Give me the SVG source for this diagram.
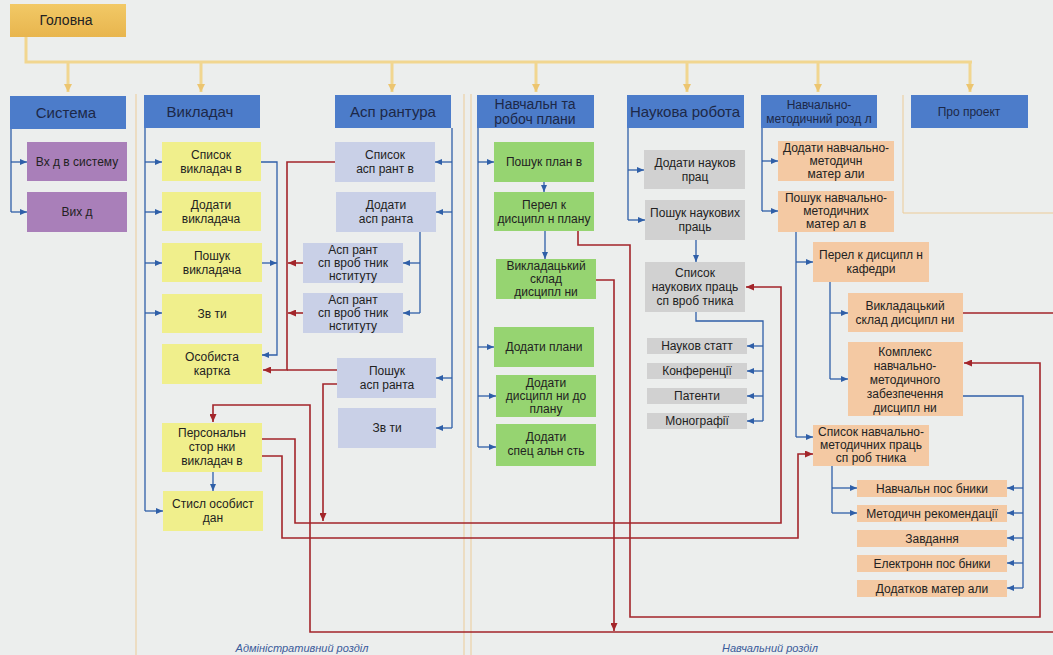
<svg xmlns="http://www.w3.org/2000/svg" width="1053" height="655" viewBox="0 0 1053 655">
<defs>
<style>
text{font-family:"Liberation Sans",Arial,sans-serif;fill:#222;text-anchor:middle}
.t{font-size:12px}
.h{font-size:15px;fill:#1c2848}
.hs{font-size:12px;fill:#1c2848}
.hd{fill:#4c7cca}
.pu{fill:#a97fb9}
.ye{fill:#f0ef8c}
.la{fill:#c9d0e7}
.gr{fill:#96d471}
.gy{fill:#d1d1d1}
.pe{fill:#f4c9a3}
.b{fill:none;stroke:#2f5fa8;stroke-width:1.3;marker-end:url(#ab)}
.bl{fill:none;stroke:#2f5fa8;stroke-width:1.3}
.r{fill:none;stroke:#a3252a;stroke-width:1.6;marker-end:url(#ar)}
.rl{fill:none;stroke:#a3252a;stroke-width:1.6}
.o{fill:none;stroke:#f1d690;stroke-width:3}
.od{fill:none;stroke:#f1d690;stroke-width:3;marker-end:url(#ao)}
.sep{fill:none;stroke:#eccb98;stroke-width:1}
.sec{font-size:11px;font-style:italic;fill:#3b5b9b}
</style>
<marker id="ab" markerWidth="7" markerHeight="6" refX="7" refY="3" orient="auto" markerUnits="userSpaceOnUse"><path d="M0,0 L7,3 L0,6 z" fill="#2f5fa8"/></marker>
<marker id="ar" markerWidth="8" markerHeight="7" refX="8" refY="3.5" orient="auto" markerUnits="userSpaceOnUse"><path d="M0,0 L8,3.5 L0,7 z" fill="#a3252a"/></marker>
<marker id="ao" markerWidth="10" markerHeight="8" refX="8" refY="4" orient="auto" markerUnits="userSpaceOnUse"><path d="M0,0 L8,4 L0,8 z" fill="#ecc570"/></marker>
<linearGradient id="gold" x1="0" y1="0" x2="0" y2="1"><stop offset="0" stop-color="#f2c966"/><stop offset="1" stop-color="#e8b54e"/></linearGradient>
</defs>
<rect x="0" y="0" width="1053" height="655" fill="#eceeed"/>
<g id="separators">
<path class="sep" d="M136,94 V655"/>
<path class="sep" d="M464,94 V655 M471,94 V655"/>
<path class="sep" d="M903,95 V213 H1053"/>
</g>
<g id="connectors">
<path class="o" d="M26,37 V62 H972"/>
<path class="od" d="M68,62 V92"/>
<path class="od" d="M201,62 V92"/>
<path class="od" d="M392,62 V92"/>
<path class="od" d="M536,62 V92"/>
<path class="od" d="M687,62 V92"/>
<path class="od" d="M818,62 V92"/>
<path class="od" d="M970,62 V92"/>
<path class="bl" d="M11,129 V212"/>
<path class="b" d="M11,162 H27"/>
<path class="b" d="M11,212 H27"/>
<path class="bl" d="M145,128 V511"/>
<path class="b" d="M145,162 H162"/>
<path class="b" d="M145,212 H162"/>
<path class="b" d="M145,263 H162"/>
<path class="b" d="M145,313 H162"/>
<path class="b" d="M145,511 H163"/>
<path class="b" d="M261,162 H277 V355 H262"/>
<path class="b" d="M262,263 H277"/>
<path class="b" d="M213,472 V491"/>
<path class="bl" d="M452,128 V428"/>
<path class="b" d="M452,162 H435"/>
<path class="b" d="M452,212 H436"/>
<path class="b" d="M452,378 H436"/>
<path class="b" d="M452,428 H436"/>
<path class="bl" d="M420,232 V313"/>
<path class="b" d="M420,263 H403"/>
<path class="b" d="M420,313 H403"/>
<path class="bl" d="M478,128 V447"/>
<path class="b" d="M478,162 H494"/>
<path class="b" d="M478,347 H494"/>
<path class="b" d="M478,396 H496"/>
<path class="b" d="M478,447 H496"/>
<path class="b" d="M544,182 V192"/>
<path class="b" d="M545,231 V259"/>
<path class="bl" d="M628,128 V220"/>
<path class="b" d="M628,170 H644"/>
<path class="b" d="M628,220 H645"/>
<path class="b" d="M696,240 V262"/>
<path class="bl" d="M696,312 V321 H763 V421"/>
<path class="b" d="M763,346 H747"/>
<path class="b" d="M763,371 H747"/>
<path class="b" d="M763,396 H747"/>
<path class="b" d="M763,421 H747"/>
<path class="bl" d="M762,128 V211"/>
<path class="b" d="M762,161 H778"/>
<path class="b" d="M762,211 H778"/>
<path class="bl" d="M796,232 V437"/>
<path class="b" d="M796,262 H813"/>
<path class="b" d="M796,437 H813"/>
<path class="bl" d="M830,282 V379"/>
<path class="b" d="M830,313 H848"/>
<path class="b" d="M830,379 H848"/>
<path class="bl" d="M832,466 V513"/>
<path class="b" d="M832,488 H857"/>
<path class="b" d="M832,513 H857"/>
<path class="bl" d="M963,396 H1023 V588"/>
<path class="b" d="M1023,488 H1007"/>
<path class="b" d="M1023,513 H1007"/>
<path class="b" d="M1023,538 H1007"/>
<path class="b" d="M1023,563 H1007"/>
<path class="b" d="M1023,588 H1007"/>
<path class="r" d="M335,162 H287 V370 H263"/>
<path class="rl" d="M337,370 H287"/>
<path class="r" d="M303,263 H288"/>
<path class="r" d="M303,313 H288"/>
<path class="r" d="M337,384 H323 V521"/>
<path class="r" d="M963,313 H1060 V632 H310 V405 H213 V422"/>
<path class="r" d="M596,280 H614 V631"/>
<path class="r" d="M578,231 V245 H630 V617 H1040 V363 H964"/>
<path class="r" d="M262,439 H295 V523 H781 V287 H746"/>
<path class="r" d="M262,456 H282 V538 H798 V454 H813"/>
</g>
<g id="golovna"><rect x="10" y="4" width="116" height="33" fill="url(#gold)"/><text x="66" y="25" style="font-size:14px" fill="#2a2418">Головна</text></g>
<g id="h-systema"><rect class="hd" x="10" y="96" width="116" height="33"/><text class="h" x="66" y="118">Система</text></g>
<g id="h-vykladach"><rect class="hd" x="144" y="95" width="116" height="33"/><text class="h" x="200" y="117">Викладач</text></g>
<g id="h-aspirantura"><rect class="hd" x="335" y="95" width="116" height="33"/><text class="h" x="393" y="117">Асп рантура</text></g>
<g id="h-plany"><rect class="hd" x="477" y="95" width="117" height="33"/><text class="h" x="535" y="109" style="font-size:14px">Навчальн та</text><text class="h" x="535" y="124" style="font-size:14px">робоч плани</text></g>
<g id="h-naukova"><rect class="hd" x="627" y="95" width="117" height="33"/><text class="h" x="685" y="117">Наукова робота</text></g>
<g id="h-nm"><rect class="hd" x="761" y="95" width="116" height="33"/><text class="hs" x="819" y="109">Навчально-</text><text class="hs" x="819" y="123">методичний розд л</text></g>
<g id="h-proekt"><rect class="hd" x="911" y="95" width="117" height="33"/><text class="hs" x="969" y="116">Про проект</text></g>

<g id="n-vhid"><rect class="pu" x="27" y="142" width="100" height="39"/><text class="t" x="77" y="166">Вх д в систему</text></g>
<g id="n-vyhid"><rect class="pu" x="27" y="192" width="100" height="40"/><text class="t" x="77" y="216">Вих д</text></g>

<g id="n-spysok-vykl"><rect class="ye" x="162" y="142" width="99" height="39"/><text class="t" x="211" y="159">Список</text><text class="t" x="211" y="173">викладач в</text></g>
<g id="n-dodaty-vykl"><rect class="ye" x="162" y="192" width="99" height="39"/><text class="t" x="211" y="209">Додати</text><text class="t" x="211" y="223">викладача</text></g>
<g id="n-poshuk-vykl"><rect class="ye" x="162" y="243" width="100" height="39"/><text class="t" x="212" y="260">Пошук</text><text class="t" x="212" y="274">викладача</text></g>
<g id="n-zvity1"><rect class="ye" x="162" y="294" width="100" height="39"/><text class="t" x="212" y="318">Зв ти</text></g>
<g id="n-kartka"><rect class="ye" x="162" y="344" width="100" height="40"/><text class="t" x="212" y="361">Особиста</text><text class="t" x="212" y="375">картка</text></g>
<g id="n-personalni"><rect class="ye" x="162" y="423" width="100" height="49"/><text class="t" x="212" y="437">Персональн</text><text class="t" x="212" y="451">стор нки</text><text class="t" x="212" y="465">викладач в</text></g>
<g id="n-styslі"><rect class="ye" x="163" y="491" width="100" height="40"/><text class="t" x="213" y="508">Стисл особист</text><text class="t" x="213" y="522">дан</text></g>

<g id="n-spysok-asp"><rect class="la" x="335" y="142" width="100" height="40"/><text class="t" x="385" y="159">Список</text><text class="t" x="385" y="173">асп рант в</text></g>
<g id="n-dodaty-asp"><rect class="la" x="336" y="192" width="100" height="40"/><text class="t" x="386" y="209">Додати</text><text class="t" x="386" y="223">асп ранта</text></g>
<g id="n-asp-sp1"><rect class="la" x="303" y="243" width="100" height="40"/><text class="t" x="353" y="254">Асп рант</text><text class="t" x="353" y="267">сп вроб тник</text><text class="t" x="353" y="280">нституту</text></g>
<g id="n-asp-sp2"><rect class="la" x="303" y="293" width="100" height="40"/><text class="t" x="353" y="304">Асп рант</text><text class="t" x="353" y="317">сп вроб тник</text><text class="t" x="353" y="330">нституту</text></g>
<g id="n-poshuk-asp"><rect class="la" x="337" y="358" width="99" height="40"/><text class="t" x="387" y="375">Пошук</text><text class="t" x="387" y="389">асп ранта</text></g>
<g id="n-zvity2"><rect class="la" x="338" y="408" width="98" height="40"/><text class="t" x="387" y="432">Зв ти</text></g>

<g id="n-poshuk-plan"><rect class="gr" x="494" y="142" width="100" height="40"/><text class="t" x="544" y="166">Пошук план в</text></g>
<g id="n-perelik-plan"><rect class="gr" x="494" y="192" width="100" height="39"/><text class="t" x="544" y="209">Перел к</text><text class="t" x="544" y="223">дисципл н плану</text></g>
<g id="n-vykl-sklad1"><rect class="gr" x="496" y="259" width="100" height="40"/><text class="t" x="546" y="270">Викладацький</text><text class="t" x="546" y="283">склад</text><text class="t" x="546" y="296">дисципл ни</text></g>
<g id="n-dodaty-plany"><rect class="gr" x="494" y="327" width="100" height="40"/><text class="t" x="544" y="351">Додати плани</text></g>
<g id="n-dodaty-dysc"><rect class="gr" x="496" y="375" width="100" height="42"/><text class="t" x="546" y="387">Додати</text><text class="t" x="546" y="400">дисципл ни до</text><text class="t" x="546" y="413">плану</text></g>
<g id="n-dodaty-spec"><rect class="gr" x="496" y="424" width="100" height="42"/><text class="t" x="546" y="441">Додати</text><text class="t" x="546" y="455">спец альн сть</text></g>

<g id="n-dodaty-nauk"><rect class="gy" x="644" y="150" width="101" height="39"/><text class="t" x="695" y="167">Додати науков</text><text class="t" x="695" y="181">прац</text></g>
<g id="n-poshuk-nauk"><rect class="gy" x="645" y="200" width="100" height="40"/><text class="t" x="695" y="217">Пошук наукових</text><text class="t" x="695" y="231">праць</text></g>
<g id="n-spysok-nauk"><rect class="gy" x="645" y="262" width="100" height="50"/><text class="t" x="695" y="277">Список</text><text class="t" x="695" y="291">наукових праць</text><text class="t" x="695" y="305">сп вроб тника</text></g>
<g id="n-statti"><rect class="gy" x="647" y="338" width="100" height="16"/><text class="t" x="697" y="350">Науков статт</text></g>
<g id="n-konf"><rect class="gy" x="647" y="363" width="100" height="16"/><text class="t" x="697" y="375">Конференції</text></g>
<g id="n-patenty"><rect class="gy" x="647" y="388" width="100" height="16"/><text class="t" x="697" y="400">Патенти</text></g>
<g id="n-monogr"><rect class="gy" x="647" y="413" width="100" height="16"/><text class="t" x="697" y="425">Монографії</text></g>

<g id="n-dodaty-nm"><rect class="pe" x="778" y="141" width="116" height="40"/><text class="t" x="836" y="152">Додати навчально-</text><text class="t" x="836" y="165">методичн</text><text class="t" x="836" y="178">матер али</text></g>
<g id="n-poshuk-nm"><rect class="pe" x="778" y="191" width="116" height="41"/><text class="t" x="836" y="202">Пошук навчально-</text><text class="t" x="836" y="215">методичних</text><text class="t" x="836" y="228">матер ал в</text></g>
<g id="n-perelik-kaf"><rect class="pe" x="813" y="242" width="116" height="40"/><text class="t" x="871" y="259">Перел к дисципл н</text><text class="t" x="871" y="273">кафедри</text></g>
<g id="n-vykl-sklad2"><rect class="pe" x="848" y="293" width="115" height="39"/><text class="t" x="905" y="310">Викладацький</text><text class="t" x="905" y="324">склад дисципл ни</text></g>
<g id="n-kompleks"><rect class="pe" x="848" y="342" width="115" height="74"/><text class="t" x="905" y="356">Комплекс</text><text class="t" x="905" y="370">навчально-</text><text class="t" x="905" y="384">методичного</text><text class="t" x="905" y="398">забезпечення</text><text class="t" x="905" y="412">дисципл ни</text></g>
<g id="n-spysok-nm"><rect class="pe" x="813" y="425" width="116" height="41"/><text class="t" x="871" y="436">Список навчально-</text><text class="t" x="871" y="449">методичних праць</text><text class="t" x="871" y="462">сп роб тника</text></g>
<g id="n-posibnyky"><rect class="pe" x="857" y="480" width="150" height="17"/><text class="t" x="932" y="493">Навчальн пос бники</text></g>
<g id="n-metod-rek"><rect class="pe" x="857" y="505" width="150" height="17"/><text class="t" x="932" y="518">Методичн рекомендації</text></g>
<g id="n-zavdannia"><rect class="pe" x="857" y="530" width="150" height="17"/><text class="t" x="932" y="543">Завдання</text></g>
<g id="n-elektr"><rect class="pe" x="857" y="555" width="150" height="17"/><text class="t" x="932" y="568">Електронн пос бники</text></g>
<g id="n-dodatkovi"><rect class="pe" x="857" y="580" width="150" height="17"/><text class="t" x="932" y="593">Додатков матер али</text></g>

<g id="sections"><text class="sec" x="302" y="652">Адміністративний розділ</text><text class="sec" x="770" y="652">Навчальний розділ</text></g>
</svg>
